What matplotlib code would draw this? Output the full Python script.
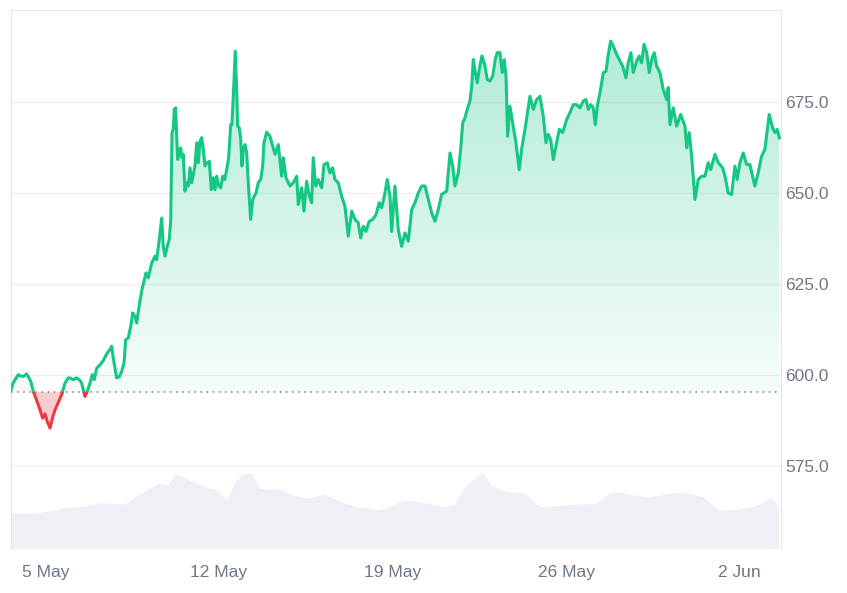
import numpy as np
import pandas as pd
import matplotlib
matplotlib.use("Agg")
from matplotlib import pyplot as plt
import matplotlib.dates as mdates
from matplotlib.patches import Polygon, Rectangle
from matplotlib.colors import LinearSegmentedColormap

# price series, hours after 5 May 2024 00:00
price_hours = [
    -33.7, -31.5, -29.5, -26.3, -24.7, -21.5, -18.2, -16.0, -14.0, -11.8,
    -8.5, -5.3, -2.7, -0.5, 1.7, 4.4, 7.0, 9.2, 12.4, 15.7,
    18.9, 22.1, 23.7, 26.9, 30.2, 33.4, 35.0, 38.2, 40.5, 43.1,
    45.3, 47.2, 49.6, 52.8, 56.0, 59.2, 62.4, 64.1, 65.6, 68.9,
    71.4, 73.8, 76.0, 77.6, 80.2, 82.8, 84.4, 86.6, 88.3, 90.8,
    93.4, 97.3, 99.5, 102.8, 106.0, 107.6, 110.2, 112.5, 114.0, 115.7,
    117.9, 119.8, 121.2, 122.5, 123.7, 124.7, 126.0, 127.0, 128.0, 129.5,
    130.9, 132.1, 133.4, 135.0, 136.7, 138.2, 139.9, 141.5, 143.1, 144.7,
    146.4, 147.9, 149.6, 151.2, 152.8, 154.4, 156.6, 158.6, 160.5, 162.4,
    164.1, 165.7, 167.7, 169.6, 171.5, 173.5, 175.4, 177.3, 179.3, 180.5,
    181.8, 183.7, 185.1, 186.0, 187.6, 189.0, 190.2, 191.5, 193.1, 194.8,
    196.3, 198.6, 200.6, 203.8, 206.0, 208.3, 210.3, 211.5, 214.1, 217.3,
    222.2, 225.4, 228.6, 230.2, 232.8, 236.7, 239.9, 243.2, 244.7, 248.0,
    250.2, 252.8, 255.4, 257.7, 259.2, 261.6, 264.1, 267.4, 269.6, 272.8,
    275.4, 278.0, 280.2, 283.4, 286.7, 289.9, 293.1, 296.4, 299.6, 302.8,
    305.1, 307.6, 310.2, 313.4, 316.7, 319.9, 323.1, 325.4, 328.0, 330.9,
    333.5, 335.1, 338.3, 341.5, 344.8, 348.0, 351.2, 354.5, 357.7, 360.9,
    364.2, 367.4, 370.6, 373.9, 377.0, 380.2, 383.5, 388.4, 391.6, 394.2,
    396.4, 399.6, 401.9, 403.9, 406.1, 408.3, 410.9, 412.6, 414.1, 416.1,
    418.0, 419.9, 422.5, 425.1, 427.7, 430.3, 432.9, 435.4, 437.3, 439.9,
    442.2, 444.1, 445.8, 447.4, 449.6, 452.2, 455.4, 458.6, 460.9, 464.2,
    469.0, 472.2, 475.5, 478.7, 481.9, 484.5, 486.7, 489.0, 491.6, 494.8,
    497.4, 500.6, 504.5, 507.7, 510.9, 514.2, 517.4, 520.6, 523.2, 525.4,
    527.8, 530.3, 532.2, 534.2, 537.4, 540.0, 542.6, 544.8, 547.1, 549.6,
    552.9, 556.1, 558.7, 561.9, 564.1, 566.7, 569.0, 572.3, 574.8, 577.1,
    579.4, 582.0, 584.5, 586.8, 589.3, 591.6, 594.8, 598.0, 601.3, 602.8,
    604.5, 607.7, 611.0, 614.9, 619.0, 620.7, 623.2, 625.5, 628.7, 631.9,
    635.2, 638.4, 641.6, 643.9, 648.1, 651.3, 655.5, 657.8, 660.9, 664.2,
    667.4, 669.6, 672.2, 675.4, 678.7, 681.9, 686.7, 689.9, 693.2, 696.4,
    700.6, 703.9, 706.2, 708.4, 710.4,
]
price = [
    595.6, 597.6, 598.7, 600.1, 599.8, 599.6, 600.3, 599.2, 598.0, 595.5,
    593.0, 590.4, 588.1, 589.3, 587.2, 585.4, 588.4, 590.4, 592.5, 594.6,
    597.8, 599.2, 599.2, 598.7, 599.2, 598.5, 597.8, 594.1, 595.5, 597.8,
    600.1, 598.7, 601.9, 602.8, 604.0, 605.8, 607.0, 607.9, 604.7, 599.2,
    599.5, 601.0, 603.3, 609.7, 610.2, 613.8, 617.1, 616.1, 614.3, 619.3,
    623.5, 628.1, 626.7, 630.8, 632.7, 631.7, 637.3, 643.2, 635.4, 632.7,
    635.4, 637.3, 642.3, 666.7, 667.6, 673.1, 673.5, 665.7, 659.3, 661.6,
    662.5, 659.8, 660.7, 650.6, 652.9, 652.0, 657.0, 652.9, 655.2, 657.5,
    663.9, 658.4, 664.3, 665.3, 662.1, 657.5, 658.4, 658.8, 651.0, 654.3,
    651.0, 654.7, 652.0, 651.5, 654.7, 653.8, 656.5, 659.8, 668.9, 668.9,
    676.7, 689.1, 678.6, 668.5, 668.0, 664.8, 657.5, 662.1, 663.4, 661.1,
    652.9, 642.8, 648.3, 650.1, 652.9, 653.8, 657.5, 663.9, 666.8, 665.7,
    660.7, 663.4, 654.7, 659.8, 654.3, 652.0, 652.9, 654.7, 646.9, 651.5,
    645.1, 653.3, 649.2, 647.4, 659.8, 652.0, 653.8, 651.5, 657.9, 658.4,
    655.6, 657.0, 653.8, 652.9, 649.2, 646.4, 638.2, 645.1, 642.8, 641.9,
    637.7, 640.9, 639.5, 642.3, 642.8, 644.1, 647.4, 646.0, 649.2, 653.8,
    649.2, 639.5, 652.0, 640.0, 635.4, 639.1, 636.8, 645.5, 647.4, 650.1,
    652.0, 652.0, 648.3, 644.6, 642.3, 645.5, 649.7, 650.6, 661.1, 657.5,
    652.0, 655.6, 662.1, 669.4, 670.8, 673.1, 675.4, 679.5, 686.8, 683.2,
    680.4, 684.1, 687.8, 685.5, 681.3, 680.9, 682.2, 686.8, 688.7, 688.7,
    683.2, 686.8, 682.2, 665.7, 674.0, 669.4, 663.9, 656.5, 662.1, 667.6,
    676.7, 673.1, 675.8, 676.7, 671.2, 663.9, 666.2, 664.8, 659.3, 663.9,
    667.6, 666.7, 670.3, 672.2, 674.4, 674.4, 673.5, 675.4, 675.8, 673.1,
    674.4, 673.5, 668.9, 674.0, 678.6, 683.2, 683.6, 688.2, 691.9, 690.5,
    688.2, 686.4, 685.0, 681.8, 685.9, 688.7, 683.2, 686.4, 687.8, 685.9,
    691.0, 688.7, 683.2, 686.8, 688.7, 685.0, 683.2, 678.6, 675.8, 679.1,
    668.9, 673.5, 668.5, 671.7, 668.5, 662.5, 666.7, 660.2, 648.3, 653.8,
    654.7, 654.7, 658.4, 656.5, 660.7, 658.4, 657.0, 654.7, 650.1, 649.7,
    657.5, 653.8, 658.4, 661.1, 657.9, 657.9, 652.0, 655.6, 660.2, 662.1,
    671.7, 668.0, 666.7, 667.6, 665.3,
]

# trading volume (relative units), hours after 5 May 2024 00:00
vol_hours = [
    -33.6, -12.7, 8.3, 18.8, 39.7, 52.8, 76.3, 92.0, 110.3, 118.2,
    126.0, 131.3, 139.1, 154.8, 165.2, 175.7, 183.5, 191.4, 199.3, 207.2,
    217.6, 228.1, 238.5, 254.2, 269.9, 285.6, 301.3, 322.2, 332.7, 343.2,
    353.6, 369.3, 385.0, 395.5, 406.0, 416.4, 424.3, 429.5, 437.3, 447.8,
    463.5, 471.3, 479.2, 505.4, 531.5, 547.2, 557.7, 568.1, 583.8, 594.4,
    604.8, 620.5, 636.2, 651.9, 667.5, 683.3, 693.8, 701.6, 709.5,
]
volume = [
    35.4, 35.4, 38.7, 41.4, 42.7, 46.0, 44.7, 55.4, 66.0, 63.7,
    75.4, 72.7, 68.7, 62.0, 58.7, 48.7, 67.0, 74.7, 76.0, 60.4,
    59.4, 59.4, 53.7, 50.4, 54.7, 47.0, 42.0, 38.7, 42.0, 47.0,
    48.7, 45.4, 42.0, 43.7, 62.0, 72.0, 76.0, 65.4, 60.4, 57.0,
    56.0, 48.7, 42.0, 43.7, 45.4, 56.0, 57.0, 53.7, 52.0, 53.7,
    56.0, 56.0, 52.0, 38.7, 39.4, 42.0, 45.4, 52.0, 42.0,
]

base_price = 595.3
tick_dates = ["2024-05-05", "2024-05-12", "2024-05-19", "2024-05-26", "2024-06-02"]
tick_labels = ["5 May", "12 May", "19 May", "26 May", "2 Jun"]
y_ticks = [575, 600, 625, 650, 675]

green = "#16c784"
red = "#ea3943"
grey_txt = "#6f7785"

plt.rcParams["font.family"] = ["Liberation Sans", "DejaVu Sans"]

t0 = mdates.date2num(pd.Timestamp("2024-05-05"))
x = t0 + np.array(price_hours) / 24
y = np.array(price)
xv = t0 + np.array(vol_hours) / 24
xlim = (t0 - 33.7 / 24, t0 + 711.7 / 24)
ylim = (552.2, 700.3)

fig = plt.figure(figsize=(8.47, 5.93), dpi=100)
rect = [0.0126, 0.0747, 0.9091, 0.9076]

# volume underneath
ax_vol = fig.add_axes(rect)
ax_vol.fill_between(xv, 0, volume, color="#edf0f4", lw=0)
ax_vol.set_xlim(xlim)
ax_vol.set_ylim(0, 538)
ax_vol.axis("off")

ax = fig.add_axes(rect)
ax.patch.set_visible(False)

# green gradient area above the baseline
cmap = LinearSegmentedColormap.from_list(
    "g", [(0.086, 0.78, 0.518, 0.04), (0.086, 0.78, 0.518, 0.36)])
grad = np.linspace(0, 1, 256).reshape(-1, 1)
im = ax.imshow(grad, cmap=cmap, aspect="auto", origin="lower",
               extent=[x[0], x[-1], base_price, ylim[1]], zorder=1)
verts = np.column_stack([np.r_[x, x[::-1]],
                         np.r_[np.maximum(y, base_price), np.full(len(x), base_price)]])
poly = Polygon(verts, closed=True, facecolor="none", edgecolor="none")
ax.add_patch(poly)
im.set_clip_path(poly)

# red area below the baseline
ax.fill_between(x, y, base_price, where=y < base_price, interpolate=True,
                color=red, alpha=0.25, lw=0, zorder=1)

# line, green above / red below
up = Rectangle((xlim[0], base_price), xlim[1] - xlim[0], 500, transform=ax.transData)
dn = Rectangle((xlim[0], base_price - 500), xlim[1] - xlim[0], 500, transform=ax.transData)
l1, = ax.plot(x, y, color=green, lw=2.2, zorder=3, solid_joinstyle="round")
l1.set_clip_path(up)
l2, = ax.plot(x, y, color=red, lw=2.2, zorder=3, solid_joinstyle="round")
l2.set_clip_path(dn)

ax.axhline(base_price, color="#7d7d7d", lw=1.1, ls=(0, (1, 3)), zorder=2)

ax.set_xlim(xlim)
ax.set_ylim(ylim)

ax.set_yticks(y_ticks)
ax.set_yticklabels([f"{v:.1f}" for v in y_ticks])
ax.yaxis.tick_right()
ax.grid(axis="y", color="#efefef", lw=0.9)
ax.set_axisbelow(True)

ax.set_xticks([mdates.date2num(pd.Timestamp(d)) for d in tick_dates])
ax.set_xticklabels(tick_labels)

ax.tick_params(axis="y", length=0, pad=3, labelsize=12.5, labelcolor=grey_txt)
ax.tick_params(axis="x", length=0, pad=12, labelsize=12.5, labelcolor=grey_txt)

for s in ["left", "top", "right"]:
    ax.spines[s].set_color("#e6e6e6")
    ax.spines[s].set_linewidth(0.8)
ax.spines["bottom"].set_visible(False)

plt.savefig("out.png", dpi=100)
